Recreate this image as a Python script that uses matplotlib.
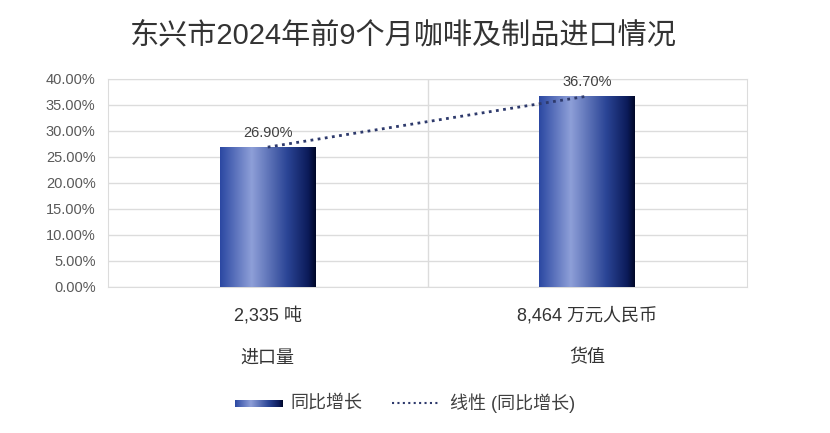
import numpy as np
import matplotlib
matplotlib.use("Agg")
import matplotlib.pyplot as plt
from matplotlib.colors import LinearSegmentedColormap
from matplotlib.lines import Line2D
from matplotlib.ticker import FuncFormatter

plt.rcParams['font.family'] = ['Liberation Sans', 'Noto Sans CJK SC']

title = "东兴市2024年前9个月咖啡及制品进口情况"
categories = ["进口量", "货值"]
amounts = ["2,335 吨", "8,464 万元人民币"]
growth = [0.269, 0.367]
series_name = "同比增长"
trend_name = "线性 (同比增长)"

W, H = 830, 433
fig = plt.figure(figsize=(W / 100, H / 100), dpi=100)
ax = fig.add_axes([108 / W, 1 - 287 / H, (747 - 108) / W, (287 - 79) / H])

# bar shading: blue edge, light band, dark right side
grad = LinearSegmentedColormap.from_list(
    "bar", [(0.0, "#2B48A2"), (0.33, "#8E9FD8"), (0.7, "#2B4596"),
            (0.92, "#0C1B5A"), (1.0, "#000828")])
strip = np.linspace(0, 1, 256).reshape(1, -1)

x = np.arange(len(categories))
bar_w = 0.3
bars = ax.bar(x, growth, width=bar_w, color="none", edgecolor="none", zorder=3)
for b in bars:
    im = ax.imshow(strip, cmap=grad, aspect="auto", zorder=3,
                   extent=[b.get_x(), b.get_x() + b.get_width(), 0, b.get_height()])
    im.set_clip_path(b)

# linear trend line
k, c = np.polyfit(x, growth, 1)
ax.plot(x, k * x + c, color="#2E3A6C", lw=2, ls=(0, (1, 1.6)), zorder=4)

for xi, v in zip(x, growth):
    ax.text(xi, v + 0.013, f"{v:.2%}", ha="center", va="bottom",
            fontsize=10.5, color="#404040", zorder=5)

ax.set_xlim(-0.5, len(categories) - 0.5)
ax.set_ylim(0, 0.40)
ax.set_yticks(np.arange(0, 0.401, 0.05))
ax.yaxis.set_major_formatter(FuncFormatter(lambda v, p: f"{v:.2%}"))
ax.tick_params(axis="y", length=0, labelsize=10.5, labelcolor="#595959", pad=9)
ax.set_xticks([])
ax.grid(axis="y", color="#DCDCDC", lw=1, zorder=0)
ax.axvline(0.5, color="#DCDCDC", lw=1, zorder=0)
for s in ax.spines.values():
    s.set_color("#DCDCDC")

tr = ax.get_xaxis_transform()
for xi, a, cat in zip(x, amounts, categories):
    ax.text(xi, -0.139, a, transform=tr, ha="center", va="center",
            fontsize=13, color="#333333")
    ax.text(xi, -0.341, cat, transform=tr, ha="center", va="center",
            fontsize=13, color="#333333")

fig.text(403 / W, 1 - 35 / H, title, ha="center", va="center",
         fontsize=21, color="#333333")

# legend
ly = 1 - 403 / H
sw = fig.add_axes([235 / W, 1 - 406.5 / H, 48 / W, 7 / H])
sw.imshow(strip, cmap=grad, aspect="auto")
sw.axis("off")
fig.text(290 / W, ly, series_name, ha="left", va="center", fontsize=13, color="#404040")
fig.add_artist(Line2D([392 / W, 440 / W], [ly, ly], transform=fig.transFigure,
                      color="#2E3A6C", lw=1.5, ls=(0, (1, 1.6))))
fig.text(450 / W, ly, trend_name, ha="left", va="center", fontsize=13, color="#404040")

fig.savefig("out.png", dpi=100, facecolor="white")
